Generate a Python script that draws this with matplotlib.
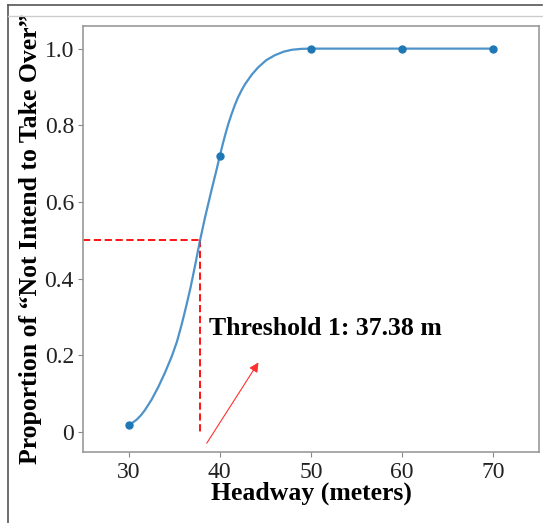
import matplotlib
matplotlib.use('Agg')
import matplotlib.pyplot as plt
from matplotlib.lines import Line2D

plt.rcParams['font.family'] = 'Liberation Serif'

# observed proportions
headway = [30, 40, 50, 60, 70]
proportion = [0.02, 0.72, 1.0, 1.0, 1.0]

# fitted curve
curve_x = [30, 30.45, 30.9, 31.35, 31.8, 32.5, 33.26, 34.0, 34.72, 35.3, 35.82, 36.3,
           36.8, 37.3, 37.83, 38.4, 39.1, 39.6, 40.0, 40.3, 40.6, 40.95, 41.3, 41.65,
           42.0, 42.4, 42.76, 43.5, 44.2, 45.1, 46.05, 47.0, 47.9, 49.0, 50, 60, 70]
curve_y = [0.02, 0.025, 0.033, 0.044, 0.058, 0.084, 0.118, 0.156, 0.197, 0.236, 0.281, 0.327,
           0.378, 0.436, 0.50, 0.562, 0.632, 0.680, 0.72, 0.749, 0.776, 0.805, 0.830, 0.853,
           0.873, 0.892, 0.907, 0.932, 0.951, 0.970, 0.983, 0.992, 0.997, 0.9995, 1.0, 1.0, 1.0]

cross_x = 37.83
cross_y = 0.5
label_thr = 'Threshold 1: 37.38 m'
arrow_tail = (38.4, -0.035)
arrow_head = (44.4, 0.188)
text_pos = (38.8, 0.254)

yticks = [0, 0.2, 0.4, 0.6, 0.8, 1.0]
ytick_labels = ['0', '0.2', '0.4', '0.6', '0.8', '1.0']
xticks = [30, 40, 50, 60, 70]

fig = plt.figure(figsize=(5.43, 5.23), dpi=100)
ax = fig.add_axes([0.1529, 0.1348, 0.8397, 0.8155])

ax.plot(curve_x, curve_y, color='#3a87c4', lw=1.6, alpha=0.9, zorder=3,
        solid_joinstyle='round')
ax.plot(headway, proportion, 'o', color='#1f77b4', ms=5, zorder=4)

ax.plot([25, cross_x], [cross_y, cross_y], '--', color='red', lw=1.3, dashes=(4, 2), zorder=2)
ax.plot([cross_x, cross_x], [cross_y, 0], '--', color='red', lw=1.3, dashes=(4, 2), zorder=2)

ax.annotate('', xy=arrow_head, xytext=arrow_tail,
            arrowprops=dict(arrowstyle='-|>', color='#ff3030', lw=0.8, mutation_scale=14))
ax.text(text_pos[0], text_pos[1], label_thr, fontsize=18.5, fontweight='bold',
        ha='left', va='baseline')

ax.set_xlim(25, 75)
ax.set_ylim(-0.053, 1.059)
ax.set_xticks(xticks)
ax.set_yticks(yticks)
ax.set_yticklabels(ytick_labels)
ax.tick_params(labelsize=17, length=3.5, color='#888888', labelcolor='#222222', pad=3)
for s in ax.spines.values():
    s.set_color('#999999'); s.set_linewidth(1.2)

ax.set_xlabel('Headway (meters)', fontsize=18.5, fontweight='bold')
ax.set_ylabel('Proportion of \u201cNot Intend to Take Over\u201d', fontsize=18.5, fontweight='bold')
ax.xaxis.set_label_coords(0.5, -0.069)
ax.yaxis.set_label_coords(-0.09, 0.5)

# screenshot frame
W, H = 543, 523
fig.add_artist(Line2D([8/W, 542/W], [1-5/H, 1-5/H], color='#555555', lw=1.2))
fig.add_artist(Line2D([8/W, 8/W], [0, 1-5/H], color='#555555', lw=1.2))
fig.add_artist(Line2D([8/W, 542/W], [1-15.7/H, 1-15.7/H], color='#cccccc', lw=1.0))

fig.savefig('out.png', dpi=100)
